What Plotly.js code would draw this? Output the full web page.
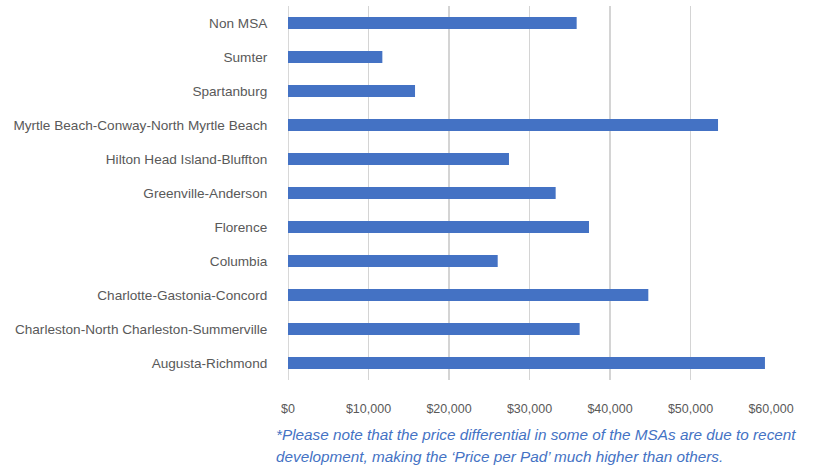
<!DOCTYPE html>
<html>
<head>
<meta charset="utf-8">
<script src="https://cdn.plot.ly/plotly-3.0.1.min.js"></script>
<style>html,body{margin:0;padding:0;background:#fff;}#chart{width:828px;height:465px;}</style>
</head>
<body>
<div id="chart"></div>
<script>
const categories = [
  "Augusta-Richmond",
  "Charleston-North Charleston-Summerville",
  "Charlotte-Gastonia-Concord",
  "Columbia",
  "Florence",
  "Greenville-Anderson",
  "Hilton Head Island-Bluffton",
  "Myrtle Beach-Conway-North Myrtle Beach",
  "Spartanburg",
  "Sumter",
  "Non MSA"
];
const pricePerPad = [59250, 36230, 44760, 26050, 37390, 33250, 27450, 53420, 15780, 11720, 35860];
const tickValues = [0, 10000, 20000, 30000, 40000, 50000, 60000];
const tickLabels = ["$0", "$10,000", "$20,000", "$30,000", "$40,000", "$50,000", "$60,000"];
const footnoteLines = [
  "*Please note that the price differential in some of the MSAs are due to recent",
  "development, making the \u2018Price per Pad\u2019 much higher than others."
];

const trace = {
  type: "bar",
  orientation: "h",
  y: categories,
  x: pricePerPad,
  marker: {color: "#4472C4", line: {width: 0}},
  hoverinfo: "x+y"
};

const layout = {
  width: 828,
  height: 465,
  margin: {l: 288, r: 57, t: 6, b: 85},
  paper_bgcolor: "#ffffff",
  plot_bgcolor: "#ffffff",
  bargap: 0.64,
  showlegend: false,
  font: {family: "Liberation Sans, Arial, sans-serif", color: "#595959", size: 12},
  xaxis: {
    range: [0, 60000],
    tickvals: tickValues,
    ticktext: tickLabels,
    showgrid: true,
    gridcolor: "#d4d4d4",
    gridwidth: 1.8,
    zeroline: false,
    showline: false,
    ticks: "outside",
    ticklen: 17,
    tickcolor: "rgba(0,0,0,0)",
    tickfont: {size: 12.5, color: "#595959"},
    fixedrange: true
  },
  yaxis: {
    type: "category",
    automargin: false,
    showgrid: false,
    zeroline: false,
    showline: false,
    ticks: "outside",
    ticklen: 17,
    tickcolor: "rgba(0,0,0,0)",
    tickfont: {size: 13.6, color: "#595959"},
    fixedrange: true
  },
  shapes: [{
    type: "line", xref: "x", yref: "paper",
    x0: 0, x1: 0, y0: 0, y1: 1,
    line: {color: "#d4d4d4", width: 1.8}, layer: "below"
  }],
  annotations: footnoteLines.map((t, i) => ({
    text: t,
    xref: "paper", yref: "paper",
    x: -0.03, y: -0.147 - i * 0.057,
    xanchor: "left", yanchor: "middle",
    showarrow: false,
    font: {family: "Liberation Sans, Arial, sans-serif", size: 15.3, color: "#4472C4", style: "italic"}
  }))
};

Plotly.newPlot("chart", [trace], layout, {displayModeBar: false, staticPlot: true});
</script>
</body>
</html>
